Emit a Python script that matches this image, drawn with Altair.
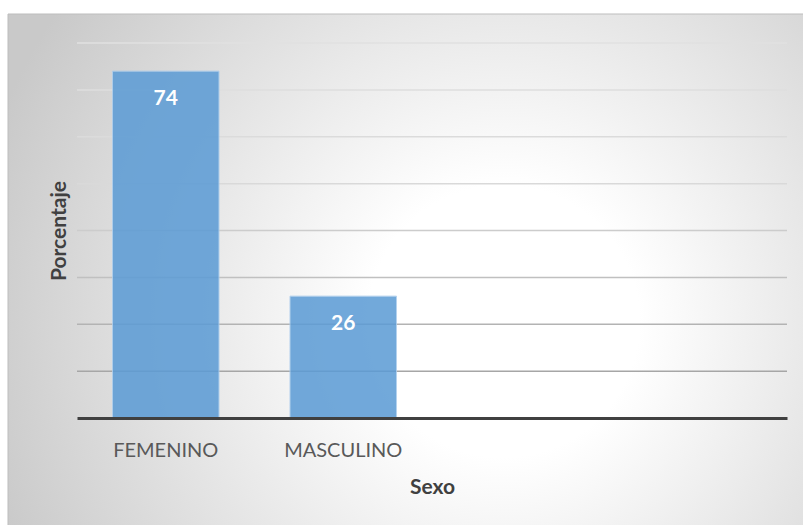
import altair as alt
import pandas as pd

categories = ["FEMENINO", "MASCULINO"]
values = [74, 26]
empty_slots = [" ", "  "]
grid_values = [10, 20, 30, 40, 50, 60, 70, 80]

df = pd.DataFrame({"Sexo": categories, "Porcentaje": values})
grid_df = pd.DataFrame({"Porcentaje": grid_values})

W, H = 710, 375
FONT = "Lato"

x_scale = alt.Scale(domain=categories + empty_slots, paddingInner=0.4, paddingOuter=0.2)
y_scale = alt.Scale(domain=[0, 80], nice=False)
y_axis = alt.Axis(title="Porcentaje", labels=False, ticks=False, domain=False,
                  grid=False, titleFont=FONT, titleFontSize=21,
                  titleFontWeight="bold", titleColor="#404040", titlePadding=8, zindex=1)
x_axis = alt.Axis(title="Sexo", labelAngle=0, ticks=False, tickSize=0,
                  labelPadding=22, labelFont=FONT, labelFontSize=20,
                  labelColor="#595959", domainColor="#404040", domainWidth=3,
                  titleFont=FONT, titleFontSize=21, titleFontWeight="bold",
                  titleColor="#404040", titlePadding=16, zindex=1)

bg = alt.Chart(alt.Data(values=[{}])).mark_rect(
    fill=alt.RadialGradient(
        gradient="radial",
        x1=0.62, y1=0.56, r1=0,
        x2=0.62, y2=0.56, r2=0.68,
        stops=[
            alt.GradientStop(offset=0, color="#ffffff"),
            alt.GradientStop(offset=0.25, color="#ffffff"),
            alt.GradientStop(offset=1, color="#c9c9c9"),
        ],
    ),
    stroke="#bdbdbd",
    strokeWidth=1,
).encode(
    x=alt.value(-69), x2=alt.value(730),
    y=alt.value(-29), y2=alt.value(490),
)

grid = alt.Chart(grid_df).mark_rule(strokeWidth=1.5).encode(
    y=alt.Y("Porcentaje:Q", scale=y_scale, axis=y_axis),
    x=alt.value(0), x2=alt.value(W),
    color=alt.Color("Porcentaje:Q",
                    scale=alt.Scale(domain=[10, 30, 50, 80],
                                    range=["#a6a6a6", "#c0c0c0", "#d9d9d9", "#e0e0e0"]),
                    legend=None),
)

bars = alt.Chart(df).mark_bar(
    color="#5B9BD5", opacity=0.86, stroke="#a8cbec", strokeWidth=1
).encode(
    x=alt.X("Sexo:N", scale=x_scale, sort=None, axis=x_axis),
    y=alt.Y("Porcentaje:Q", scale=y_scale, axis=y_axis),
)

labels = alt.Chart(df).mark_text(
    font=FONT, fontSize=21, fontWeight="bold", color="white", baseline="middle", dy=28
).encode(
    x=alt.X("Sexo:N", scale=x_scale, sort=None, axis=x_axis),
    y=alt.Y("Porcentaje:Q", scale=y_scale, axis=y_axis),
    text=alt.Text("Porcentaje:Q"),
)

chart = alt.layer(bg, grid, bars, labels).properties(
    width=W, height=H,
    autosize=alt.AutoSizeParams(type="none"),
    padding={"left": 77, "top": 43, "right": 16, "bottom": 107},
    background="white",
).configure_view(stroke=None)

chart.save("out.html", embed_options={"renderer": "svg", "actions": False})
